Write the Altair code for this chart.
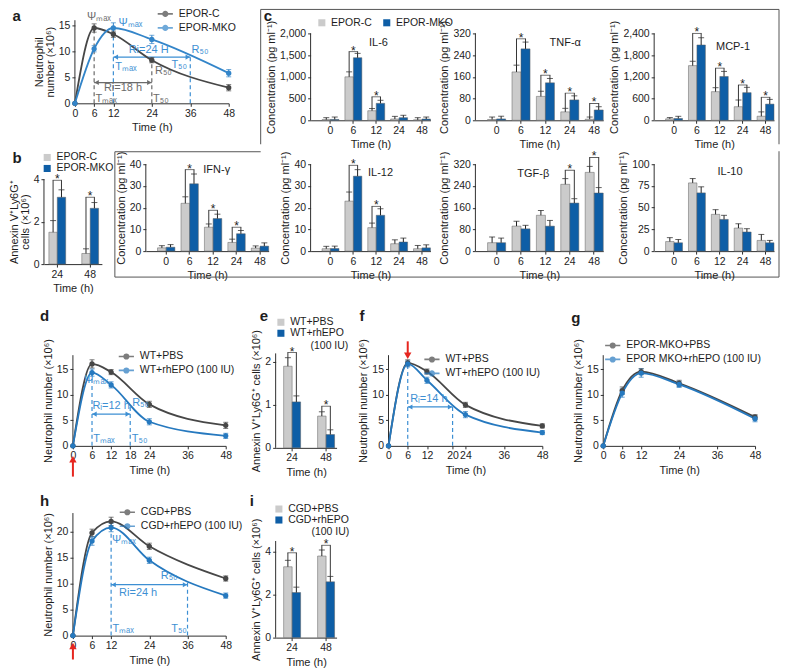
import json
import altair as alt
import pandas as pd

FONT = "Liberation Sans"
INK = "#1d1d1d"
AXC = "#2f2f2f"
DARK = "#474747"
BLUE = "#2679bf"
ANN_BLUE = "#3d8fd3"
ANN_GRAY = "#6b6b6b"
BAR_GRAY = "#cbcbcb"
BAR_BLUE = "#0e5ea6"
ERRC = "#202020"
RED = "#e6261f"
BOX = "#555555"

ROW_TOP = [8, 144, 286, 474]
ROW_H = [136, 142, 188, 176]
ONE = pd.DataFrame({"k": [0]})
LINE_SYM = "M-1.7,0L1.7,0M-0.5,0A0.5,0.5,0,1,1,0.5,0A0.5,0.5,0,1,1,-0.5,0Z"
IND = "\u200b" + "\u00a0"

# ---------------- data ----------------
line_times = [0, 6, 12, 24, 48]
bar_times5 = ["0", "6", "12", "24", "48"]
bar_times2 = ["24", "48"]

a_series = ["EPOR-C", "EPOR-MKO"]
a_c = [0, 14.5, 13.3, 8.3, 3.0]
a_c_err = [0, 0.8, 0.6, 0.5, 0.6]
a_mko = [0, 10.5, 14.5, 12.3, 5.8]
a_mko_err = [0, 0.6, 1.0, 0.8, 0.7]

b_c = [1.5, 0.5]
b_c_err = [0.55, 0.22]
b_mko = [3.15, 2.63]
b_mko_err = [0.35, 0.27]
b_sig = ["24", "48"]
b_bracket = [3.95, 3.15]

il6_c = [15, 1000, 220, 30, 10]
il6_c_err = [45, 115, 50, 60, 50]
il6_m = [20, 1440, 390, 60, 30]
il6_m_err = [55, 100, 70, 55, 45]
il6_sig = ["6", "12"]
il6_bracket = [1580, 540]

tnf_c = [3, 178, 88, 31, 4]
tnf_c_err = [9, 25, 19, 13, 8]
tnf_m = [5, 263, 138, 75, 38]
tnf_m_err = [10, 25, 16, 15, 12]
tnf_sig = ["6", "12", "24", "48"]
tnf_bracket = [300, 166, 100, 62]

mcp_c = [40, 1510, 790, 375, 112]
mcp_c_err = [35, 120, 110, 185, 120]
mcp_m = [50, 2080, 1210, 763, 447]
mcp_m_err = [60, 200, 140, 147, 130]
mcp_sig = ["6", "12", "24", "48"]
mcp_bracket = [2400, 1440, 975, 635]

ifn_c = [1.5, 22, 11, 4, 1.4]
ifn_c_err = [1.0, 3.0, 1.5, 1.5, 1.0]
ifn_m = [1.8, 31, 15, 8, 2.3]
ifn_m_err = [1.2, 4.5, 2.0, 1.5, 1.5]
ifn_sig = ["6", "12", "24"]
ifn_bracket = [37.5, 18.8, 11]

il12_c = [1.1, 23, 10.8, 3.4, 1.1]
il12_c_err = [1.1, 4.2, 2.1, 1.8, 1.5]
il12_m = [1.2, 34.5, 16.5, 4.2, 1.5]
il12_m_err = [1.1, 3.0, 3.0, 1.8, 1.4]
il12_sig = ["6", "12"]
il12_bracket = [39.5, 20.6]

tgf_c = [31, 92, 132, 246, 290]
tgf_c_err = [21, 18, 18, 21, 22]
tgf_m = [31, 82, 92, 177, 214]
tgf_m_err = [17, 13, 21, 16, 20]
tgf_sig = ["24", "48"]
tgf_bracket = [298, 345]

il10_c = [11, 78.5, 42.3, 26.5, 12.3]
il10_c_err = [4.5, 5, 5.4, 5, 6.9]
il10_m = [9.6, 67, 36.5, 22, 9.6]
il10_m_err = [3.8, 7, 4.7, 3.8, 2.7]

d_series = ["WT+PBS", "WT+rhEPO (100 IU)"]
d_pbs = [0, 16.0, 14.4, 8.1, 4.0]
d_pbs_err = [0, 0.8, 0.5, 0.6, 0.6]
d_epo = [0, 14.3, 11.9, 4.7, 1.95]
d_epo_err = [0, 0.7, 0.6, 0.6, 0.5]

e_series = ["WT+PBS", "WT+rhEPO"]
e_pbs = [1.9, 0.74]
e_pbs_err = [0.2, 0.1]
e_epo = [1.07, 0.31]
e_epo_err = [0.14, 0.11]
e_sig = ["24", "48"]
e_bracket = [2.22, 0.97]

f_pbs = [0, 16.2, 14.5, 8.0, 3.9]
f_pbs_err = [0, 0.6, 0.5, 0.5, 0.4]
f_epo = [0, 16.0, 12.8, 6.1, 2.6]
f_epo_err = [0, 0.6, 0.6, 0.6, 0.4]

g_series = ["EPOR-MKO+PBS", "EPOR MKO+rhEPO (100 IU)"]
g_pbs = [0, 10.8, 14.5, 12.2, 5.6]
g_pbs_err = [0, 0.7, 0.6, 0.6, 0.5]
g_epo = [0, 10.3, 14.2, 12.0, 5.3]
g_epo_err = [0, 0.8, 0.8, 0.6, 0.6]

h_series = ["CGD+PBS", "CGD+rhEPO (100 IU)"]
h_pbs = [0, 19.8, 22.0, 17.2, 11.0]
h_pbs_err = [0, 0.7, 0.8, 0.6, 0.5]
h_epo = [0, 18.2, 20.8, 14.5, 7.7]
h_epo_err = [0, 0.8, 0.8, 0.6, 0.5]

i_series = ["CGD+PBS", "CGD+rhEPO"]
i_pbs = [3.3, 3.8]
i_pbs_err = [0.3, 0.28]
i_epo = [2.1, 2.6]
i_epo_err = [0.25, 0.25]
i_sig = ["24", "48"]
i_bracket = [3.95, 4.3]

# annotations (time, value units)
a_dashes = [(6, 14.5, ANN_GRAY), (24, 8.3, ANN_GRAY), (12, 14.5, ANN_BLUE), (36, 9.0, ANN_BLUE)]
a_arrows = [(6, 24, 4.0, ANN_GRAY), (12, 36, 8.9, ANN_BLUE)]
a_notes = [
    (7.5, 16.6, "Ψₘₐₓ", "center", ANN_GRAY),
    (15, 2.9, "Ri=18 h", "center", ANN_GRAY),
    (6.4, 0.9, "Tₘₐₓ", "left", ANN_GRAY),
    (25, 6.3, "R₅₀", "left", ANN_GRAY),
    (24.4, 0.9, "T₅₀", "left", ANN_GRAY),
    (13.6, 15.4, "Ψₘₐₓ", "left", ANN_BLUE),
    (23, 10.3, "Ri=24 H", "center", ANN_BLUE),
    (12.6, 7.0, "Tₘₐₓ", "left", ANN_BLUE),
    (35, 7.3, "T₅₀", "right", ANN_BLUE),
    (36.4, 10.2, "R₅₀", "left", ANN_BLUE),
]
d_dashes = [(6, 14.3, ANN_BLUE), (18, 7.6, ANN_BLUE)]
d_arrows = [(6, 18, 6.2, ANN_BLUE)]
d_notes = [
    (7.3, 12.8, "Ψₘₐₓ", "center", ANN_BLUE),
    (12, 7.8, "Rᵢ=12 h", "center", ANN_BLUE),
    (18.6, 8.3, "R₅₀", "left", ANN_BLUE),
    (6.4, 1.4, "Tₘₐₓ", "left", ANN_BLUE),
    (18.5, 1.4, "T₅₀", "left", ANN_BLUE),
]
f_dashes = [(6, 16.0, ANN_BLUE), (20, 7.9, ANN_BLUE)]
f_arrows = [(6, 20, 7.6, ANN_BLUE)]
f_notes = [(12.6, 9.2, "Rᵢ=14 h", "center", ANN_BLUE)]
h_dashes = [(12, 20.8, ANN_BLUE), (36, 10.2, ANN_BLUE)]
h_arrows = [(12, 36, 9.8, ANN_BLUE)]
h_notes = [
    (12.3, 18.5, "Ψₘₐₓ", "left", ANN_BLUE),
    (20.5, 8.2, "Ri=24 h", "center", ANN_BLUE),
    (27.6, 11.4, "R₅₀", "left", ANN_BLUE),
    (12.4, 1.3, "Tₘₐₓ", "left", ANN_BLUE),
    (35.8, 1.3, "T₅₀", "right", ANN_BLUE),
]

CONC = "Concentration (pg ml⁻¹)"
ANNEX = "Annexin V⁺Ly6G⁺ cells (×10⁶)"
NEUT = "Neutrophil number (×10⁶)"
C_BAND = (0.26, 0.25, 1.0)
B_BAND = (0.49, 0.125, 0.6)
E_BAND = (0.5, 0.147, 0.8)


def spacer(w, h=1):
    return alt.Chart(ONE).mark_point(opacity=0, size=1).properties(width=w, height=h)


def text_px(s, dx, dy, size=11, color=INK, align="center", weight="normal"):
    return alt.Chart(ONE).mark_text(text=s, font=FONT, fontSize=size, fontWeight=weight,
                                    color=color, align=align, baseline="middle").encode(
        x=alt.value(dx), y=alt.value(dy))


def seg(x1, y1, x2, y2):
    enc = {"x": alt.value(x1), "y": alt.value(y1)}
    if x2 != x1:
        enc["x2"] = alt.value(x2)
    if y2 != y1:
        enc["y2"] = alt.value(y2)
    return alt.Chart(ONE).mark_rule(color=BOX, strokeWidth=1).encode(**enc)


def color_cond(names, colors):
    return "datum.value === %s ? %s : %s" % (json.dumps(names[0]), json.dumps(colors[0]), json.dumps(colors[1]))


def line_panel(ox, row, width, zero, ppu, axis_top, xticks, yticks, ytitle, names, s1, e1, s2, e2,
               legend_at, label, label_at, dashes=(), arrows=(), notes=(), red=None,
               colors=(DARK, BLUE), colored=True):
    top = ROW_TOP[row]
    height = zero - top
    ysc = alt.Scale(domain=[0, height / ppu], nice=False, zero=False)
    xsc = alt.Scale(domain=[0, 48], nice=False, zero=False)
    xax = alt.Axis(values=xticks, title="Time (h)", labelFlush=False, labelOverlap=False)
    yax = alt.Axis(values=yticks, domain=False, title=ytitle, titleY=height - axis_top * ppu / 2,
                   labelOverlap=False)
    cs = alt.Scale(domain=list(names), range=list(colors))
    lkw = dict(orient="none", legendX=legend_at[0] - ox, legendY=legend_at[1] - top, title=None,
               symbolType=LINE_SYM, symbolSize=80, symbolStrokeWidth=1.7, labelOffset=8, rowPadding=1)
    if colored:
        cond = color_cond(names, colors)
        lkw["encode"] = {"labels": {"update": {"fill": {"signal": cond}}},
                         "symbols": {"update": {"fill": {"signal": cond}, "stroke": {"signal": cond}}}}
    n = len(line_times)
    df = pd.DataFrame({"time": line_times * 2, "value": s1 + s2, "err": e1 + e2,
                       "series": [names[0]] * n + [names[1]] * n})
    base = alt.Chart(df).transform_calculate(lo="datum.value - datum.err", hi="datum.value + datum.err")
    errb = base.transform_filter("datum.err > 0")

    def X(f):
        return alt.X(f, scale=xsc, axis=xax)

    def Y(f):
        return alt.Y(f, scale=ysc, axis=yax)

    leg = alt.Legend(**lkw)
    col = alt.Color("series:N", scale=cs, legend=leg)
    L = [alt.Chart(pd.DataFrame({"y0": [0.0], "y1": [axis_top]})).mark_rule(color=AXC, strokeWidth=1)
         .encode(x=alt.value(0), y=Y("y0:Q"), y2="y1:Q")]
    for xv, yv, c in dashes:
        L.append(alt.Chart(pd.DataFrame({"x": [xv], "y0": [0.0], "y1": [yv]}))
                 .mark_rule(color=c, strokeWidth=1.2, strokeDash=[4, 3])
                 .encode(x=X("x:Q"), y=Y("y0:Q"), y2="y1:Q"))
    for x1, x2, yv, c in arrows:
        adf = pd.DataFrame({"x1": [x1], "x2": [x2], "y": [yv]})
        L.append(alt.Chart(adf).mark_rule(color=c, strokeWidth=1.2).encode(x=X("x1:Q"), x2="x2:Q", y=Y("y:Q")))
        L.append(alt.Chart(adf).mark_point(shape="triangle-left", filled=True, size=26, color=c, opacity=1,
                                           xOffset=2.5).encode(x=X("x1:Q"), y=Y("y:Q")))
        L.append(alt.Chart(adf).mark_point(shape="triangle-right", filled=True, size=26, color=c, opacity=1,
                                           xOffset=-2.5).encode(x=X("x2:Q"), y=Y("y:Q")))
    L.append(base.mark_line(interpolate="monotone", strokeWidth=1.8).encode(
        x=X("time:Q"), y=Y("value:Q"), color=col))
    L.append(errb.mark_rule(strokeWidth=1).encode(x=X("time:Q"), y=Y("lo:Q"), y2="hi:Q", color=col))
    for fld in ("lo", "hi"):
        L.append(errb.mark_tick(orient="horizontal", size=5, thickness=1).encode(
            x=X("time:Q"), y=Y(fld + ":Q"), color=col))
    L.append(base.mark_circle(size=28, opacity=1).encode(x=X("time:Q"), y=Y("value:Q"), color=col))
    for xv, yv, s, al, c in notes:
        L.append(alt.Chart(pd.DataFrame({"x": [xv], "y": [yv]})).mark_text(
            text=s, align=al, baseline="middle", font=FONT, fontSize=11, color=c).encode(
            x=X("x:Q"), y=Y("y:Q")))
    if red:
        xv, tip, tail, direction = red
        rdf = pd.DataFrame({"x": [xv], "tip": [tip], "tail": [tail]})
        L.append(alt.Chart(rdf).mark_rule(color=RED, strokeWidth=2).encode(x=X("x:Q"), y=Y("tip:Q"), y2="tail:Q"))
        L.append(alt.Chart(rdf).mark_point(shape="triangle-" + direction, filled=True, size=55, color=RED,
                                           opacity=1).encode(x=X("x:Q"), y=Y("tip:Q")))
    L.append(text_px(label, label_at[0] - ox, label_at[1] - top, size=15, weight="bold", align="left"))
    return alt.layer(*L).properties(width=width, height=height)


def bar_legend(x, y, direction="vertical", expr=None):
    kw = dict(orient="none", legendX=x, legendY=y, title=None, symbolType="square", symbolSize=50,
              symbolStrokeWidth=0, direction=direction, rowPadding=0, columnPadding=9, labelOffset=4)
    if expr:
        kw["labelExpr"] = expr
    return alt.Legend(**kw)


def bar_panel(ox, row, width, zero, ppu, axis_top, yticks, yfmt, ytitle, times, names, g, ge, m, me,
              band, sig=(), brackets=(), legend=None, title=None, title_at=None, label=None,
              label_at=None, extra=()):
    top = ROW_TOP[row]
    height = zero - top
    ysc = alt.Scale(domain=[0, height / ppu], nice=False, zero=False)
    pi, po, al = band
    n = len(times)
    step = width / (n - pi + 2 * po)
    bw = step * (1 - pi)
    xsc = alt.Scale(paddingInner=pi, paddingOuter=po, align=al)
    xax = alt.Axis(title="Time (h)", labelAngle=0)
    ykw = dict(values=yticks, domain=False, title=ytitle, titleY=height - axis_top * ppu / 2,
               labelOverlap=False)
    if yfmt:
        ykw["format"] = yfmt
    yax = alt.Axis(**ykw)

    def X():
        return alt.X("time:N", sort=list(times), scale=xsc, axis=xax)

    def Y(f):
        return alt.Y(f, scale=ysc, axis=yax)

    XO = alt.XOffset("series:N", sort=list(names), scale=alt.Scale(paddingInner=0, paddingOuter=0))
    df = pd.DataFrame({"time": list(times) * 2, "series": [names[0]] * n + [names[1]] * n,
                       "value": g + m, "err": ge + me})
    base = alt.Chart(df).transform_calculate(hi="datum.value + datum.err")
    cs = alt.Scale(domain=list(names), range=[BAR_GRAY, BAR_BLUE])
    L = [alt.Chart(pd.DataFrame({"y0": [0.0], "y1": [axis_top]})).mark_rule(color=AXC, strokeWidth=1)
         .encode(x=alt.value(0), y=Y("y0:Q"), y2="y1:Q")]
    L.append(base.mark_bar(stroke="#5f5f5f", strokeWidth=0.5).encode(
        x=X(), xOffset=XO, y=Y("value:Q"),
        color=alt.Color("series:N", scale=cs, legend=legend)))
    L.append(base.mark_rule(color=ERRC, strokeWidth=1).encode(x=X(), xOffset=XO, y=Y("value:Q"), y2="hi:Q"))
    L.append(base.mark_tick(orient="horizontal", color=ERRC, thickness=1,
                            size=max(3.5, min(6, bw / 2 - 2))).encode(x=X(), xOffset=XO, y=Y("hi:Q")))
    if sig:
        rows = []
        for t, yb in zip(sig, brackets):
            i = list(times).index(t)
            rows.append({"time": t, "series": names[0], "lo": g[i] + ge[i], "top": yb})
            rows.append({"time": t, "series": names[1], "lo": m[i] + me[i], "top": yb})
        L.append(alt.Chart(pd.DataFrame(rows)).mark_rule(color=ERRC, strokeWidth=0.9).encode(
            x=X(), xOffset=XO, y=Y("lo:Q"), y2="top:Q"))
        hdf = pd.DataFrame({"time": list(sig), "top": list(brackets)})
        L.append(alt.Chart(hdf).mark_tick(orient="horizontal", color=ERRC, thickness=0.9,
                                          size=bw / 2 + 0.9).encode(x=X(), y=Y("top:Q")))
        L.append(alt.Chart(hdf).mark_text(text="*", font=FONT, fontSize=12, color=INK,
                                          baseline="alphabetic", dy=3).encode(x=X(), y=Y("top:Q")))
    if title:
        L.append(text_px(title, title_at[0] - ox, title_at[1] - top, size=11))
    if label:
        L.append(text_px(label, label_at[0] - ox, label_at[1] - top, size=15, weight="bold", align="left"))
    L.extend(extra)
    return alt.layer(*L).properties(width=width, height=height)


def make_row(row, items):
    parts = []
    pos = 0
    first = True
    for px, ch, w in items:
        gap = px - 8 - pos
        parts.append(spacer(gap, ROW_H[row] if first else 1))
        first = False
        parts.append(ch)
        pos = px - 8 + w
    return alt.hconcat(*parts, spacing=0, bounds="flush").resolve_scale(
        color="independent", xOffset="independent").resolve_legend(color="independent")


def build(colored):
    pa = line_panel(71, 0, 154, 103, 5.2, 16, [0, 6, 12, 24, 36, 48], [0, 5, 10, 15],
                    ["Neutrophil", "number (×10⁶)"], a_series, a_c, a_c_err, a_mko, a_mko_err,
                    (156, 8), "a", (8.5, 16), a_dashes, a_arrows, a_notes,
                    colors=(DARK, "#3385c9"), colored=colored)
    il6 = bar_panel(307, 0, 120, 120, 87 / 2000, 2000, [0, 500, 1000, 1500, 2000], ",.0f", CONC,
                    bar_times5, a_series, il6_c, il6_c_err, il6_m, il6_m_err, C_BAND,
                    il6_sig, il6_bracket, legend=bar_legend(6, 9, "horizontal"),
                    title="IL-6", title_at=(375, 43), label="c", label_at=(260, 16),
                    extra=[seg(-50, 1, 469, 1), seg(-50, 1, -50, 136), seg(469, 1, 469, 136)])
    tnf = bar_panel(472, 0, 128, 120, 87 / 320, 320, [0, 80, 160, 240, 320], None, CONC,
                    bar_times5, a_series, tnf_c, tnf_c_err, tnf_m, tnf_m_err, C_BAND,
                    tnf_sig, tnf_bracket, title="TNF-α", title_at=(562, 43))
    mcp = bar_panel(651, 0, 120, 120, 87 / 2400, 2400, [0, 600, 1200, 1800, 2400], ",.0f", CONC,
                    bar_times5, a_series, mcp_c, mcp_c_err, mcp_m, mcp_m_err, C_BAND,
                    mcp_sig, mcp_bracket, title="MCP-1", title_at=(730, 47))

    pb = bar_panel(40, 1, 58, 257, 21.25, 4, [0, 2, 4], None, ["Annexin V⁺Ly6G⁺", "cells (×10⁶)"],
                   bar_times2, a_series, b_c, b_c_err, b_mko, b_mko_err, B_BAND,
                   b_sig, b_bracket, legend=bar_legend(-2, 1), label="b", label_at=(8.5, 151))
    ifn = bar_panel(142, 1, 123, 244, 87 / 40, 40, [0, 10, 20, 30, 40], None, CONC,
                    bar_times5, a_series, ifn_c, ifn_c_err, ifn_m, ifn_m_err, C_BAND,
                    ifn_sig, ifn_bracket, title="IFN-γ", title_at=(213, 163),
                    extra=[seg(-31, 0.5, 115, 0.5), seg(-31, 0.5, -31, 126),
                           seg(-31, 126, 634, 126), seg(634, 0, 634, 126)])
    il12 = bar_panel(307, 1, 120, 244, 87 / 40, 40, [0, 10, 20, 30, 40], None, CONC,
                     bar_times5, a_series, il12_c, il12_c_err, il12_m, il12_m_err, C_BAND,
                     il12_sig, il12_bracket, title="IL-12", title_at=(377, 166))
    tgf = bar_panel(472, 1, 128, 244, 87 / 320, 320, [0, 80, 160, 240, 320], None, CONC,
                    bar_times5, a_series, tgf_c, tgf_c_err, tgf_m, tgf_m_err, C_BAND,
                    tgf_sig, tgf_bracket, title="TGF-β", title_at=(530, 167))
    il10 = bar_panel(651, 1, 120, 244, 87 / 100, 100, [0, 25, 50, 75, 100], None, CONC,
                     bar_times5, a_series, il10_c, il10_c_err, il10_m, il10_m_err, C_BAND,
                     title="IL-10", title_at=(727, 165))

    pd_ = line_panel(69, 2, 153, 438, 5.13, 17.7, [0, 6, 12, 18, 24, 36, 48], [0, 5, 10, 15], NEUT,
                     d_series, d_pbs, d_pbs_err, d_epo, d_epo_err, (117, 343), "d", (36, 308),
                     d_dashes, d_arrows, d_notes, red=(0, -2.6, -6.0, "up"), colored=colored)
    e_expr = "datum.label === 'WT+rhEPO' ? ['WT+rhEPO', '" + IND * 7 + "(100 IU)'] : datum.label"
    pe = bar_panel(272, 2, 61, 440, 43, 2.2, [0, 1, 2], None, ANNEX,
                   bar_times2, e_series, e_pbs, e_pbs_err, e_epo, e_epo_err, E_BAND,
                   e_sig, e_bracket, legend=bar_legend(0, 23, expr=e_expr), label="e", label_at=(256, 308))
    pf = line_panel(385, 2, 154, 438, 5.13, 17.7, [0, 6, 12, 20, 24, 36, 48], [0, 5, 10, 15], NEUT,
                    d_series, f_pbs, f_pbs_err, f_epo, f_epo_err, (423, 346), "f", (356, 308),
                    f_dashes, f_arrows, f_notes, red=(6, 17.6, 20.4, "down"), colored=colored)
    pg = line_panel(600, 2, 152, 438, 5.13, 17.7, [0, 6, 12, 24, 36, 48], [0, 5, 10, 15], NEUT,
                    g_series, g_pbs, g_pbs_err, g_epo, g_epo_err, (604, 332), "g", (568, 310),
                    colored=colored)

    ph = line_panel(69, 3, 153, 628, 5.2, 23.6, [0, 6, 12, 24, 36, 48], [0, 5, 10, 15, 20], NEUT,
                    h_series, h_pbs, h_pbs_err, h_epo, h_epo_err, (118, 499), "h", (36, 493),
                    h_dashes, h_arrows, h_notes, red=(0, -2.0, -4.6, "up"), colored=colored)
    i_expr = "datum.label === 'CGD+rhEPO' ? ['CGD+rhEPO', '" + IND * 8 + "(100 IU)'] : datum.label"
    pi_ = bar_panel(272, 3, 61, 630, 21.5, 4.5, [0, 2, 4], None, ANNEX,
                    bar_times2, i_series, i_pbs, i_pbs_err, i_epo, i_epo_err, E_BAND,
                    i_sig, i_bracket, legend=bar_legend(-2, 22, expr=i_expr), label="i", label_at=(246, 493))

    row1 = make_row(0, [(71, pa, 154), (307, il6, 120), (472, tnf, 128), (651, mcp, 120)])
    row2 = make_row(1, [(40, pb, 58), (142, ifn, 123), (307, il12, 120), (472, tgf, 128), (651, il10, 120)])
    row3 = make_row(2, [(69, pd_, 153), (272, pe, 61), (385, pf, 154), (600, pg, 152)])
    row4 = make_row(3, [(69, ph, 153), (272, pi_, 61)])

    ch = alt.vconcat(row1, row2, row3, row4, spacing=0, padding=0).resolve_scale(
        color="independent", xOffset="independent").resolve_legend(color="independent")
    ch = ch.configure(font=FONT, background="white").configure_view(stroke=None).configure_axis(
        grid=False, labelFont=FONT, titleFont=FONT, labelFontSize=10.5, titleFontSize=11,
        titleFontWeight="normal", labelColor=INK, titleColor=INK, domainColor=AXC, tickColor=AXC,
        tickSize=3, labelPadding=2, titlePadding=3, domainWidth=1, tickWidth=1, titleLineHeight=11
    ).configure_legend(labelFont=FONT, labelFontSize=10.5, labelColor=INK, padding=0, labelLimit=300)
    return ch


try:
    chart = build(True)
    chart.to_dict()
except Exception:
    chart = build(False)

chart.save("out.html", embed_options={"renderer": "svg", "actions": False})
